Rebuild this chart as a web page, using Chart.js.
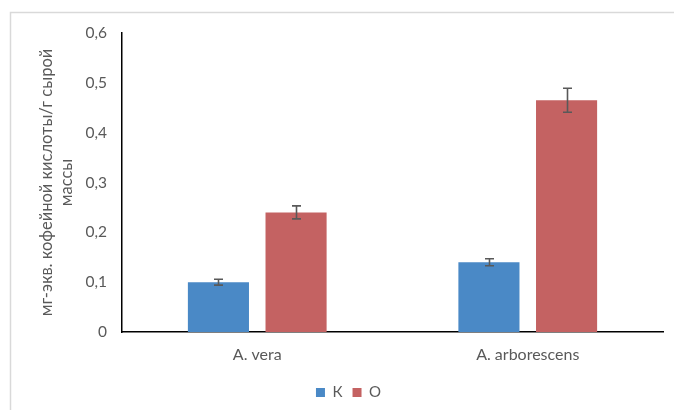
<!DOCTYPE html>
<html>
<head>
<meta charset="utf-8">
<script src="https://cdn.jsdelivr.net/npm/chart.js@4/dist/chart.umd.min.js"></script>
<style>
  html, body { margin: 0; padding: 0; background: #fff; }
  #wrap { width: 674px; height: 410px; position: relative; }
</style>
</head>
<body>
<div id="wrap"><canvas id="c" width="674" height="410"></canvas></div>
<script>
// Species on the x axis
const categories = ['A. vera', 'A. arborescens'];
// Series names (legend)
const seriesNames = ['К', 'О'];
// Caffeic acid equivalents, mg per g fresh weight
const valuesK = [0.10, 0.14];
const valuesO = [0.24, 0.465];
// Error bar half-widths
const errorsK = [0.006, 0.007];
const errorsO = [0.013, 0.024];
// Y tick labels
const yTicks = ['0', '0,1', '0,2', '0,3', '0,4', '0,5', '0,6'];

const FONT = 'Lato, "Liberation Sans", sans-serif';
const GREY = '#595959';

// Outer frame line (top and left) around the chart
const framePlugin = {
  id: 'frame',
  beforeDraw(chart) {
    const ctx = chart.ctx;
    ctx.save();
    ctx.strokeStyle = '#d9d9d9';
    ctx.lineWidth = 1.5;
    ctx.beginPath();
    ctx.moveTo(10.5, 410);
    ctx.lineTo(10.5, 12.5);
    ctx.lineTo(674, 12.5);
    ctx.stroke();
    ctx.restore();
  }
};

// Nudge the legend so it sits under the middle of the plot frame
const legendShift = {
  id: 'legendShift',
  afterLayout(chart) {
    const lg = chart.legend;
    if (lg) { lg.left += 12; lg.right += 12; }
  }
};

// Error bars drawn on top of each bar
const errorBarPlugin = {
  id: 'errorBars',
  afterDatasetsDraw(chart) {
    const ctx = chart.ctx;
    const y = chart.scales.y;
    ctx.save();
    ctx.strokeStyle = GREY;
    ctx.lineWidth = 1.6;
    chart.data.datasets.forEach((ds, i) => {
      const meta = chart.getDatasetMeta(i);
      meta.data.forEach((bar, j) => {
        const v = ds.data[j], e = ds.errors[j];
        const x = Math.round(bar.x) + 0.5;
        const yt = y.getPixelForValue(v + e);
        const yb = y.getPixelForValue(v - e);
        ctx.beginPath();
        ctx.moveTo(x, yt); ctx.lineTo(x, yb);
        ctx.moveTo(x - 4.5, yt); ctx.lineTo(x + 4.5, yt);
        ctx.moveTo(x - 4.5, yb); ctx.lineTo(x + 4.5, yb);
        ctx.stroke();
      });
    });
    ctx.restore();
  }
};

new Chart(document.getElementById('c'), {
  type: 'bar',
  data: {
    labels: categories,
    datasets: [
      { label: seriesNames[0], data: valuesK, errors: errorsK, backgroundColor: '#4A89C6' },
      { label: seriesNames[1], data: valuesO, errors: errorsO, backgroundColor: '#C46262' }
    ]
  },
  options: {
    responsive: false,
    animation: false,
    devicePixelRatio: 1,
    layout: { padding: { top: 33, left: 10, right: 11, bottom: 0 } },
    datasets: { bar: { categoryPercentage: 0.574, barPercentage: 0.787 } },
    plugins: {
      legend: {
        position: 'bottom',
        labels: {
          boxWidth: 9, boxHeight: 9, padding: 10,
          color: GREY, font: { family: FONT, size: 15 }
        }
      },
      tooltip: { enabled: false }
    },
    scales: {
      x: {
        grid: { display: false, drawTicks: false },
        border: { display: true, color: '#000', width: 1.5 },
        ticks: { color: GREY, font: { family: FONT, size: 16 }, padding: 13 },
        afterFit(s) { s.height = 43; }
      },
      y: {
        min: 0, max: 0.6,
        grid: { display: false, drawTicks: false },
        border: { display: true, color: '#000', width: 1.5 },
        ticks: {
          stepSize: 0.1,
          color: GREY,
          font: { family: FONT, size: 15.5 },
          padding: 15,
          callback(v, i) { return yTicks[i]; }
        },
        title: {
          display: true,
          text: ['мг-экв. кофейной кислоты/г сырой', 'массы'],
          color: GREY,
          font: { family: FONT, size: 16.5 },
          padding: { top: 27, bottom: 0 }
        },
        afterFit(s) { s.width = 112; }
      }
    }
  },
  plugins: [framePlugin, legendShift, errorBarPlugin]
});
</script>
</body>
</html>
